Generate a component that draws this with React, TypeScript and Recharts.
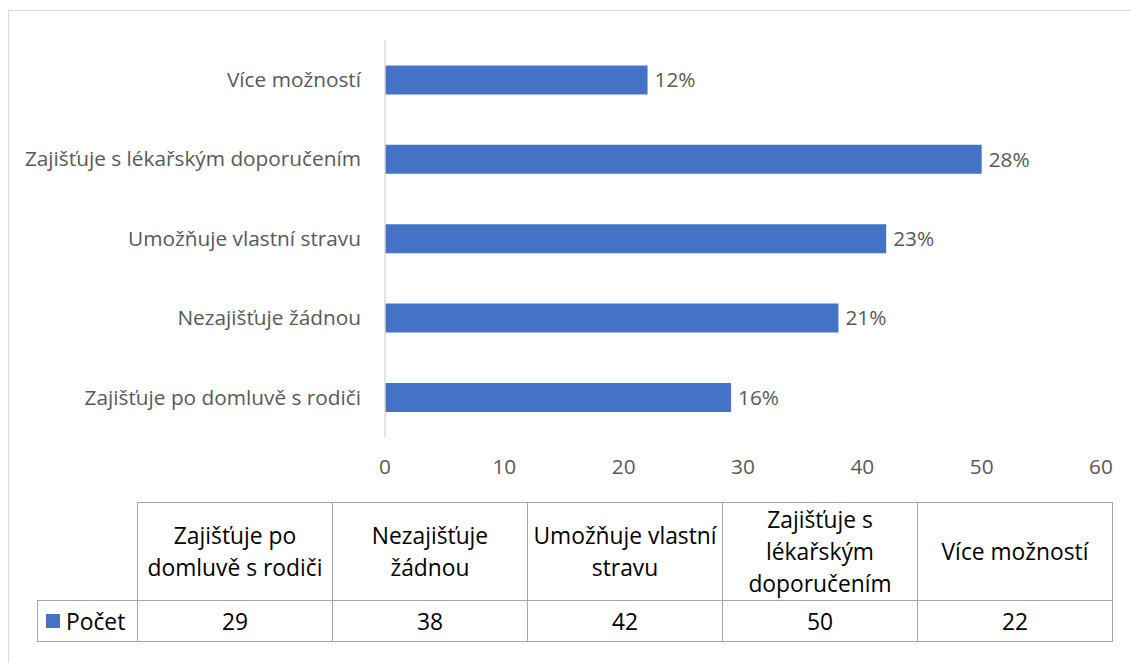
import { BarChart, Bar, XAxis, YAxis, LabelList } from 'recharts'

const categories = [
  'Zajišťuje po domluvě s rodiči',
  'Nezajišťuje žádnou',
  'Umožňuje vlastní stravu',
  'Zajišťuje s lékařským doporučením',
  'Více možností',
]
const counts = [29, 38, 42, 50, 22]
const tableHeaders = [
  ['Zajišťuje po', 'domluvě s rodiči'],
  ['Nezajišťuje', 'žádnou'],
  ['Umožňuje vlastní', 'stravu'],
  ['Zajišťuje s', 'lékařským', 'doporučením'],
  ['Více možností'],
]
const xTicks = [0, 10, 20, 30, 40, 50, 60]
const seriesName = 'Počet'

const BLUE = '#4472C4'
const FONT = '"Open Sans", "Noto Sans", sans-serif'
const AXIS_FS = 20.8

const total = counts.reduce((a, b) => a + b, 0)
const data = categories.map((name, i) => ({ name, value: counts[i] }))

const cellBorder = '1px solid #a6a6a6'

export default function App() {
  return (
    <div
      style={{
        position: 'fixed',
        left: 0,
        top: 0,
        width: 1131,
        height: 663,
        overflow: 'hidden',
        background: '#fff',
        fontFamily: FONT,
      }}
    >
      <div
        style={{
          position: 'absolute',
          left: 8,
          top: 10,
          width: 1200,
          height: 720,
          border: '1px solid #d9d9d9',
        }}
      />
      <div style={{ position: 'absolute', left: 0, top: 0 }}>
        <BarChart
          layout="vertical"
          width={1131}
          height={490}
          data={data}
          margin={{ top: 40, right: 30, bottom: 3, left: 0 }}
          barCategoryGap="32%"
        >
          <XAxis
            type="number"
            domain={[0, 60]}
            ticks={xTicks}
            axisLine={false}
            tickLine={false}
            tickSize={0}
            tickMargin={22}
            height={50}
            tick={{ fill: '#595959', fontSize: AXIS_FS, fontFamily: FONT }}
          />
          <YAxis
            type="category"
            dataKey="name"
            reversed
            width={385}
            axisLine={{ stroke: '#d9d9d9', strokeWidth: 1.5 }}
            tickLine={false}
            tickSize={0}
            tickMargin={24}
            interval={0}
            tick={{ fill: '#595959', fontSize: AXIS_FS, fontFamily: FONT }}
          />
          <Bar dataKey="value" fill={BLUE} isAnimationActive={false}>
            <LabelList
              dataKey="value"
              position="right"
              offset={7}
              fill="#595959"
              fontSize={AXIS_FS}
              fontFamily={FONT}
              formatter={(v: number) => `${Math.round((v / total) * 100)}%`}
            />
          </Bar>
        </BarChart>
      </div>
      <table
        style={{
          position: 'absolute',
          left: 37,
          top: 502,
          borderCollapse: 'collapse',
          tableLayout: 'fixed',
          fontFamily: FONT,
          fontSize: 22.8,
          color: '#000',
        }}
      >
        <colgroup>
          <col style={{ width: 100 }} />
          {categories.map((c) => (
            <col key={c} style={{ width: 195 }} />
          ))}
        </colgroup>
        <tbody>
          <tr style={{ height: 98 }}>
            <td style={{ padding: 0 }} />
            {tableHeaders.map((lines, i) => (
              <td
                key={i}
                style={{
                  border: cellBorder,
                  textAlign: 'center',
                  verticalAlign: 'middle',
                  lineHeight: '32px',
                  padding: 0,
                  whiteSpace: 'nowrap',
                }}
              >
                {lines.map((l, j) => (
                  <div key={j}>{l}</div>
                ))}
              </td>
            ))}
          </tr>
          <tr style={{ height: 41 }}>
            <td style={{ border: cellBorder, padding: '0 0 0 8px', whiteSpace: 'nowrap' }}>
              <span
                style={{
                  display: 'inline-block',
                  width: 14,
                  height: 14,
                  background: BLUE,
                  marginRight: 6,
                  verticalAlign: 'middle',
                  position: 'relative',
                  top: -2,
                }}
              />
              {seriesName}
            </td>
            {counts.map((v, i) => (
              <td key={i} style={{ border: cellBorder, textAlign: 'center', padding: 0 }}>
                {v}
              </td>
            ))}
          </tr>
        </tbody>
      </table>
    </div>
  )
}
